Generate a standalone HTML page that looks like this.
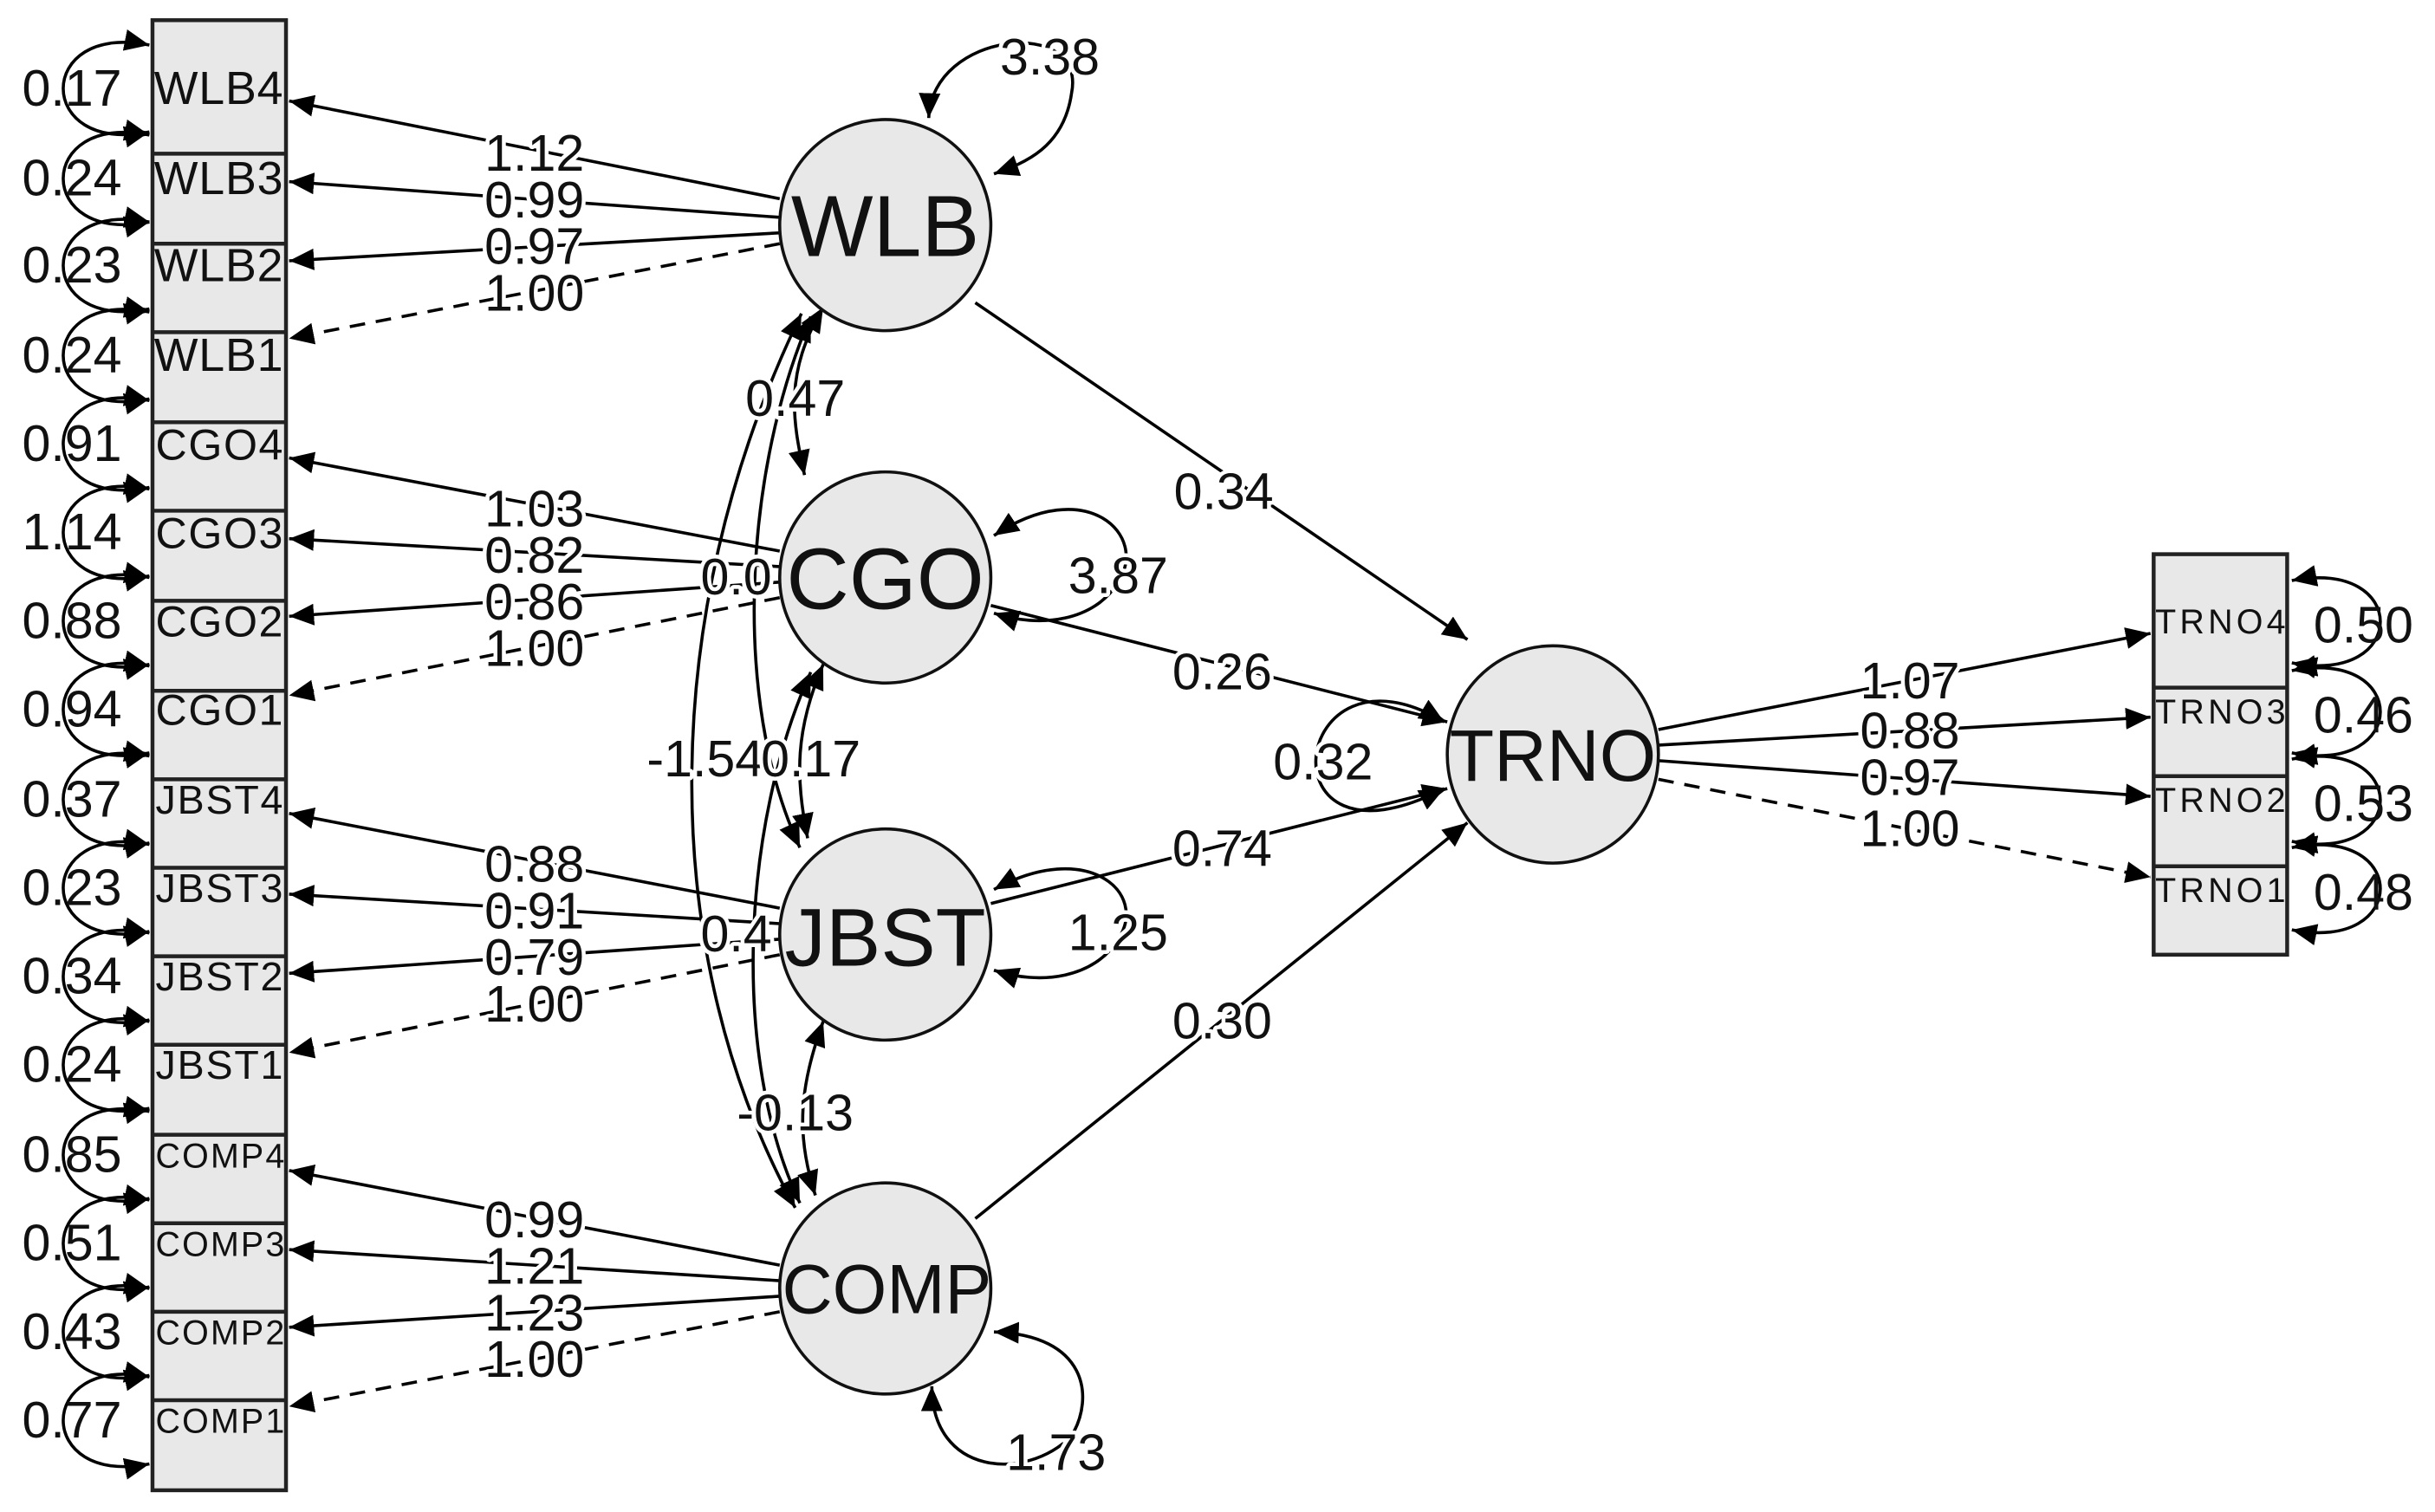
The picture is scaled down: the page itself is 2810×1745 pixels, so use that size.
<!DOCTYPE html>
<html><head><meta charset="utf-8"><style>
html,body{margin:0;padding:0;background:#fff;}
svg{display:block;}
text{font-family:"Liberation Sans",Arial,sans-serif;fill:#111;}
.n{font-size:33px;paint-order:stroke;stroke:#fff;stroke-width:5px;stroke-linejoin:round;}
.nn{font-size:33px;}
</style></head><body>
<svg width="2810" height="1745" viewBox="0 0 1568 974" xmlns="http://www.w3.org/2000/svg">
<defs>
<marker id="a" markerUnits="userSpaceOnUse" markerWidth="18" markerHeight="14" refX="16" refY="7" orient="auto-start-reverse">
<path d="M0,0 L16,7 L0,14 Z" fill="#000"/>
</marker>
</defs>
<g fill="none" stroke="#000" stroke-width="2">
<rect x="98" y="13" width="86" height="947" fill="#e8e8e8" stroke="#222" stroke-width="2.5"/>
<path d="M98,99H184M98,157H184M98,214H184M98,272H184M98,329H184M98,387H184M98,445H184M98,502H184M98,559H184M98,616H184M98,673H184M98,731H184M98,788H184M98,845H184M98,902H184" stroke="#222" stroke-width="2.5"/>
<rect x="1387" y="357" width="86" height="258" fill="#e8e8e8" stroke="#222" stroke-width="2.5"/>
<path d="M1387,443H1473M1387,500H1473M1387,558H1473" stroke="#222" stroke-width="2.5"/>
<g marker-start="url(#a)" marker-end="url(#a)">
<path d="M96,29 C22,14 22,100 96,85"/>
<path d="M96,87 C22,72 22,158 96,143"/>
<path d="M96,143 C22,128 22,214 96,199"/>
<path d="M96,201 C22,186 22,272 96,257"/>
<path d="M96,258 C22,243 22,329 96,314"/>
<path d="M96,315 C22,300 22,386 96,371"/>
<path d="M96,372 C22,357 22,443 96,428"/>
<path d="M96,429 C22,414 22,500 96,485"/>
<path d="M96,487 C22,472 22,558 96,543"/>
<path d="M96,544 C22,529 22,615 96,600"/>
<path d="M96,601 C22,586 22,672 96,657"/>
<path d="M96,658 C22,643 22,729 96,714"/>
<path d="M96,716 C22,701 22,787 96,772"/>
<path d="M96,773 C22,758 22,844 96,829"/>
<path d="M96,830 C22,815 22,901 96,886"/>
<path d="M96,887 C22,872 22,958 96,943"/>
</g>
<g marker-start="url(#a)" marker-end="url(#a)">
<path d="M1476,374 C1552,359 1552,442 1476,427"/>
<path d="M1476,432 C1552,417 1552,500 1476,485"/>
<path d="M1476,489 C1552,474 1552,557 1476,542"/>
<path d="M1476,546 C1552,531 1552,614 1476,599"/>
</g>
<g marker-end="url(#a)">
<path d="M502,128 L186,65"/><path d="M502,140 L186,117"/><path d="M502,150 L186,168"/><path d="M502,157 L186,218" stroke-dasharray="10,7"/>
<path d="M502,355 L186,295"/><path d="M502,365 L186,347"/><path d="M502,375 L186,397"/><path d="M502,385 L186,448" stroke-dasharray="10,7"/>
<path d="M502,585 L186,524"/><path d="M502,595 L186,576"/><path d="M502,605 L186,627"/><path d="M502,615 L186,678" stroke-dasharray="10,7"/>
<path d="M502,815 L186,754"/><path d="M502,825 L186,805"/><path d="M502,835 L186,855"/><path d="M502,845 L186,906" stroke-dasharray="10,7"/>
<path d="M1068,470 L1385,408"/><path d="M1068,480 L1385,462"/><path d="M1068,490 L1385,513"/><path d="M1068,502 L1385,565" stroke-dasharray="10,7"/>
<path d="M628,195 L945,412"/><path d="M638,390 L932,465"/><path d="M638,582 L932,508"/><path d="M628,785 L945,530"/>
</g>
<g marker-start="url(#a)" marker-end="url(#a)">
<path d="M598,76 C600,20 700,10 690,60 C685,95 660,105 640,112"/>
<path d="M640,345 C700,305 740,345 720,375 C705,400 670,405 640,395"/>
<path d="M640,573 C700,540 740,575 720,605 C705,630 670,635 640,625"/>
<path d="M640,858 C700,860 705,900 690,925 C660,955 600,950 600,893"/>
<path d="M930,465 C830,405 810,570 930,508"/>
</g>
<g marker-start="url(#a)" marker-end="url(#a)">
<path d="M530,198 C505,240 510,270 518,306"/>
<path d="M530,428 C512,470 512,500 520,540"/>
<path d="M530,658 C515,700 512,730 525,770"/>
<path d="M522,204 C480,300 470,450 515,546"/>
<path d="M522,433 C478,530 470,680 515,775"/>
<path d="M516,202 C420,400 425,620 512,778"/>
</g>
<g fill="#e8e8e8" stroke="#111" stroke-width="2">
<circle cx="570" cy="145" r="68"/><circle cx="570" cy="372" r="68"/><circle cx="570" cy="602" r="68"/><circle cx="570" cy="830" r="68"/>
<ellipse cx="1000" cy="486" rx="68" ry="70"/>
</g>
</g>
<g font-size="30">
<text x="99" y="67" textLength="83">WLB4</text><text x="99" y="125" textLength="83">WLB3</text><text x="99" y="181" textLength="83">WLB2</text><text x="99" y="239" textLength="83">WLB1</text>
<text x="100" y="296" font-size="28" textLength="82">CGO4</text><text x="100" y="353" font-size="28" textLength="82">CGO3</text><text x="100" y="410" font-size="28" textLength="82">CGO2</text><text x="100" y="467" font-size="28" textLength="82">CGO1</text>
<text x="100" y="524" font-size="26" textLength="82">JBST4</text><text x="100" y="581" font-size="26" textLength="82">JBST3</text><text x="100" y="638" font-size="26" textLength="82">JBST2</text><text x="100" y="695" font-size="26" textLength="82">JBST1</text>
<text x="100" y="752" font-size="22" textLength="83">COMP4</text><text x="100" y="809" font-size="22" textLength="83">COMP3</text><text x="100" y="866" font-size="22" textLength="83">COMP2</text><text x="100" y="923" font-size="22" textLength="83">COMP1</text>
<text x="1388" y="408" font-size="22" textLength="84">TRNO4</text><text x="1388" y="466" font-size="22" textLength="84">TRNO3</text><text x="1388" y="523" font-size="22" textLength="84">TRNO2</text><text x="1388" y="581" font-size="22" textLength="84">TRNO1</text>
</g>
<text x="570" y="165" font-size="56" text-anchor="middle">WLB</text>
<text x="570" y="392" font-size="56" text-anchor="middle">CGO</text>
<text x="570" y="622" font-size="53" text-anchor="middle">JBST</text>
<text x="571" y="846" font-size="45" text-anchor="middle">COMP</text>
<text x="1000" y="503" font-size="47" text-anchor="middle">TRNO</text>
<g class="nn">
<text x="14" y="68">0.17</text><text x="14" y="126">0.24</text><text x="14" y="182">0.23</text><text x="14" y="240">0.24</text>
<text x="14" y="297">0.91</text><text x="14" y="354">1.14</text><text x="14" y="411">0.88</text><text x="14" y="468">0.94</text>
<text x="14" y="526">0.37</text><text x="14" y="583">0.23</text><text x="14" y="640">0.34</text><text x="14" y="697">0.24</text>
<text x="14" y="755">0.85</text><text x="14" y="812">0.51</text><text x="14" y="869">0.43</text><text x="14" y="926">0.77</text>
<text x="1490" y="414">0.50</text><text x="1490" y="472">0.46</text><text x="1490" y="529">0.53</text><text x="1490" y="586">0.48</text>
</g>
<g class="n" text-anchor="middle">
<text x="344" y="110">1.12</text><text x="344" y="140">0.99</text><text x="344" y="170">0.97</text><text x="344" y="200">1.00</text>
<text x="344" y="339">1.03</text><text x="344" y="369">0.82</text><text x="344" y="399">0.86</text><text x="344" y="429">1.00</text>
<text x="344" y="568">0.88</text><text x="344" y="598">0.91</text><text x="344" y="628">0.79</text><text x="344" y="658">1.00</text>
<text x="344" y="797">0.99</text><text x="344" y="827">1.21</text><text x="344" y="857">1.23</text><text x="344" y="887">1.00</text>
<text x="1230" y="450">1.07</text><text x="1230" y="482">0.88</text><text x="1230" y="512">0.97</text><text x="1230" y="545">1.00</text>
<text x="788" y="328">0.34</text><text x="787" y="444">0.26</text><text x="787" y="558">0.74</text><text x="787" y="669">0.30</text>
<text x="852" y="502">0.32</text>
<text x="676" y="48">3.38</text><text x="720" y="382">3.87</text><text x="720" y="612">1.25</text><text x="680" y="947">1.73</text>
<text x="512" y="268">0.47</text>
<text x="474" y="383">0.0</text>
<text x="474" y="613">0.4</text>
<text x="454" y="500">-1.54</text>
<text x="522" y="500">0.17</text>
<text x="512" y="728">-0.13</text>
</g>
</svg>
</body></html>
